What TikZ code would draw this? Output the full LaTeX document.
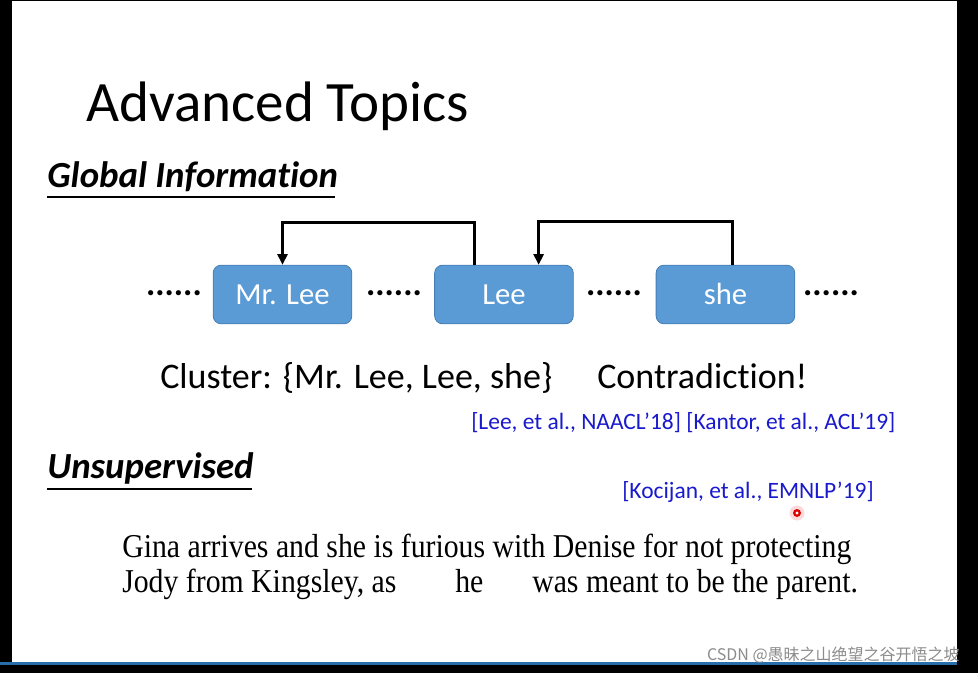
\documentclass[tikz,border=0pt]{standalone}
\usepackage{fontspec}
\setmainfont{Carlito}[Ligatures=NoCommon]
\newfontfamily\serifont{Liberation Serif}
\newfontfamily\cjkfont{Noto Sans CJK SC}
\usepackage{tikz}
\usetikzlibrary{arrows.meta, positioning}

\definecolor{boxblue}{RGB}{91,155,213}
\definecolor{boxedge}{RGB}{70,125,180}
\definecolor{citeblue}{RGB}{25,25,205}
\definecolor{barblue}{RGB}{40,110,170}

\begin{document}
\begin{tikzpicture}[x=0.75pt, y=-0.75pt,
    mention/.style={draw=boxedge, fill=boxblue, rounded corners=6pt, line width=0.6pt,
        minimum width=104pt, minimum height=44pt, inner sep=0pt,
        text height=15pt, text depth=0pt,
        text=white, font=\fontsize{23}{23}\selectfont},
    dotrow/.style={font=\fontsize{26}{26}\selectfont\bfseries, inner sep=0pt},
    link/.style={line width=2.2pt, -{Triangle[length=8pt, width=7.5pt]}},
    txt/.style={anchor=base west, inner sep=0pt},
    heading/.style={txt, font=\fontsize{27.6}{27.6}\selectfont\bfseries\itshape},
    cite/.style={txt, text=citeblue, font=\fontsize{17.6}{17.6}\selectfont},
    sentence/.style={txt, font=\fontsize{25}{25}\serifont}]

    % Frame
    \fill[black] (0,0) rectangle (978,673);
    \fill[white] (12,1.5) rectangle (957,662);
    \fill[barblue] (0,662) rectangle (957,665);

    % Title
    \node[txt, font=\fontsize{42.8}{42.8}\selectfont] (title) at (86,122) {Advanced Topics};

    % Global information
    \node[heading] (global) at (47,188) {Global Information};
    \draw[line width=1.5pt] (global.base west) ++(0,9) -- ++(288,0);

    \node[mention] (mrlee) at (282.5,294.5) {Mr. Lee};
    \node[mention, right=61.5pt of mrlee] (lee) {Lee};
    \node[mention, right=61.5pt of lee] (she) {she};

    \node[dotrow] (dots1) at (174,293) {......};
    \node[dotrow] (dots2) at (394,293) {......};
    \node[dotrow] (dots3) at (614,293) {......};
    \node[dotrow] (dots4) at (831,293) {......};

    \draw[link] ([xshift=-22pt]lee.north) -- ++(0,-42) -| (mrlee.north);
    \draw[link] ([xshift=5pt]she.north) -- ++(0,-43) -| ([xshift=26pt]lee.north);

    \node[txt, font=\fontsize{27}{27}\selectfont] (cluster) at (160,388) {Cluster: \{Mr. Lee, Lee, she\}};
    \node[txt, font=\fontsize{27}{27}\selectfont] (contra) at (597,388) {Contradiction!};

    \node[cite] (cite1) at (471,430) {[Lee, et al., NAACL’18] [Kantor, et al., ACL’19]};

    % Unsupervised
    \node[heading] (unsup) at (47,479) {Unsupervised};
    \draw[line width=1.5pt] (unsup.base west) ++(0,10) -- ++(205,0);

    \node[cite] (cite2) at (622,498) {[Kocijan, et al., EMNLP’19]};

    \node[sentence] (line1) at (122,557)
        {\scalebox{0.893}[1]{Gina arrives and she is furious with Denise for not protecting}};
    \node[sentence] (line2) at (122,592)
        {\scalebox{0.893}[1]{Jody from Kingsley, as}};
    \node[sentence] (he) at (455,592) {\scalebox{0.893}[1]{he}};
    \node[sentence] (line3) at (532,592)
        {\scalebox{0.893}[1]{was meant to be the parent.}};

    % pointer
    \fill[red!15] (797,513) circle (7.5);
    \fill[red!85!black] (797,513) circle (4);
    \fill[white] (797,513) circle (1.6);

    % watermark
    \node[anchor=base east, inner sep=0pt, text=black!45, font=\fontsize{12}{12}\cjkfont] (mark) at (960,660)
        {CSDN @愚昧之山绝望之谷开悟之坡};
\end{tikzpicture}
\end{document}
